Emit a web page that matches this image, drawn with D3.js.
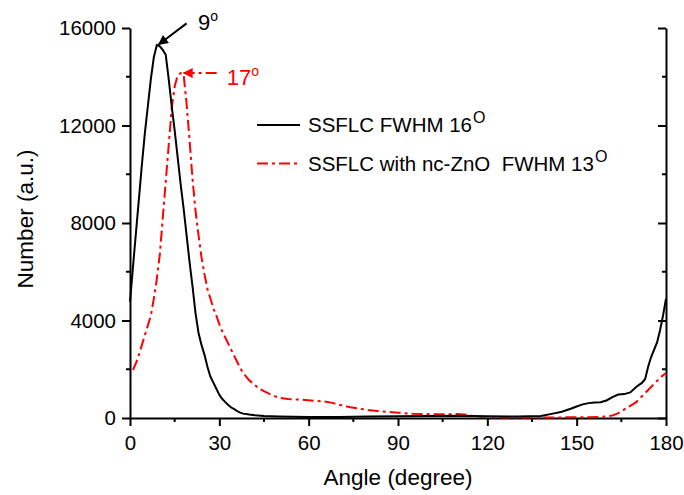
<!DOCTYPE html>
<html>
<head>
<meta charset="utf-8">
<script src="https://cdn.jsdelivr.net/npm/d3@7"></script>
<style>
  body { margin: 0; background: #fff; }
  text { font-family: "Liberation Sans", Arial, sans-serif; white-space: pre; }
</style>
</head>
<body>
<div id="chart"></div>
<script>
// angle (degree) and number (a.u.)
var ssflcAngle = [0, 1, 2, 3, 4, 5, 6, 7, 8, 9, 10, 11, 12, 13, 14, 15, 16, 17, 18, 19, 20, 21, 22, 23, 24, 25, 26, 27, 28, 29, 30, 31, 32, 33, 34, 35, 36, 37, 38, 40, 42, 45, 50, 60, 70, 80, 90, 100, 110, 120, 130, 138, 142, 145, 148, 150, 152, 154, 156, 158, 160, 162, 164, 166, 168, 170, 172, 173, 174, 175, 176, 177, 178, 179, 180];
var ssflcValue = [4770, 6200, 7600, 9000, 10400, 11700, 12800, 13900, 14800, 15300, 15250, 15100, 14900, 13900, 12800, 11800, 10700, 9600, 8600, 7500, 6400, 5400, 4300, 3500, 3000, 2600, 2100, 1700, 1450, 1200, 950, 780, 650, 530, 430, 360, 280, 220, 180, 140, 110, 80, 60, 40, 40, 60, 70, 80, 90, 70, 60, 80, 180, 260, 380, 470, 560, 610, 640, 650, 720, 860, 960, 980, 1050, 1270, 1450, 1600, 2100, 2500, 2800, 3100, 3600, 4200, 4900];

var znoAngle = [1, 2, 3, 4, 5, 6, 7, 8, 9, 10, 11, 12, 13, 14, 15, 16, 17, 18, 19, 20, 21, 22, 23, 24, 25, 26, 27, 28, 29, 30, 31, 32, 33, 34, 35, 36, 37, 38, 39, 40, 41, 42, 43, 45, 47, 50, 53, 56, 59, 62, 65, 68, 71, 74, 77, 80, 83, 86, 90, 95, 100, 105, 110, 113, 116, 120, 130, 140, 150, 158, 162, 164, 166, 168, 170, 172, 174, 176, 178, 180];
var znoValue = [1970, 2250, 2600, 3000, 3400, 3800, 4200, 4900, 5700, 6700, 8200, 9700, 11200, 12700, 13600, 14050, 14150, 14100, 12900, 11400, 9800, 8500, 7500, 6600, 5900, 5300, 4900, 4500, 4200, 3850, 3550, 3300, 3050, 2800, 2550, 2300, 2050, 1850, 1700, 1550, 1450, 1350, 1230, 1100, 980, 830, 780, 760, 740, 700, 680, 620, 520, 440, 380, 330, 290, 260, 220, 170, 160, 150, 160, 130, 60, 30, 20, 20, 30, 40, 100, 200, 350, 500, 650, 900, 1150, 1400, 1650, 1850];

var xTicks = [0, 30, 60, 90, 120, 150, 180];
var yTicks = [0, 4000, 8000, 12000, 16000];
var legendNames = ["SSFLC FWHM 16", "SSFLC with nc-ZnO  FWHM 13"];

var w = 684, h = 495;
var margin = {top: 28, right: 18, bottom: 77, left: 130};

var svg = d3.select('#chart').
  append('svg').
  attr('width', w).
  attr('height', h);

var x = d3.scaleLinear().domain([0, 180]).range([margin.left, w - margin.right]);
var y = d3.scaleLinear().domain([0, 16000]).range([h - margin.bottom, margin.top]);

var defs = svg.append('defs');
function arrowHead(id, color) {
  defs.append('marker').
    attr('id', id).
    attr('viewBox', '0 0 10 10').
    attr('refX', 10).
    attr('refY', 5).
    attr('markerWidth', 12).
    attr('markerHeight', 10).
    attr('markerUnits', 'userSpaceOnUse').
    attr('orient', 'auto').
    append('path').
    attr('d', 'M0,0L10,5L0,10Z').
    attr('fill', color);
}
arrowHead('arrowK', '#000');
arrowHead('arrowR', '#ff0000');

// axes
var xMinor = d3.range(15, 180, 30);
var yMinor = d3.range(2000, 16000, 4000);

var bottom = svg.append('g').attr('transform', 'translate(0,' + y(0) + ')');
bottom.call(d3.axisBottom(x).tickValues(xTicks).tickSize(8).tickPadding(9).tickSizeOuter(0));
bottom.selectAll('.minor').data(xMinor).enter().append('line').
  attr('x1', d => x(d)).attr('x2', d => x(d)).attr('y1', 0).attr('y2', 4).
  attr('stroke', '#000').attr('stroke-width', 2);

var left = svg.append('g').attr('transform', 'translate(' + x(0) + ',0)');
left.call(d3.axisLeft(y).tickValues(yTicks).tickFormat(d3.format('d')).tickSize(8).tickPadding(6).tickSizeOuter(0));
left.selectAll('.minor').data(yMinor).enter().append('line').
  attr('x1', 0).attr('x2', -4).attr('y1', d => y(d)).attr('y2', d => y(d)).
  attr('stroke', '#000').attr('stroke-width', 2);

var right = svg.append('g').attr('transform', 'translate(' + x(180) + ',0)');
right.call(d3.axisLeft(y).tickValues(yTicks).tickFormat('').tickSize(8).tickSizeOuter(0));
right.selectAll('.minor').data(yMinor).enter().append('line').
  attr('x1', 0).attr('x2', -4).attr('y1', d => y(d)).attr('y2', d => y(d)).
  attr('stroke', '#000').attr('stroke-width', 2);

svg.selectAll('.domain').attr('stroke-width', 2);
svg.selectAll('.tick line').attr('stroke-width', 2);
svg.selectAll('.tick text').style('font-size', '20.5px').attr('fill', '#000');

svg.append('text').
  attr('x', (x(0) + x(180)) / 2).
  attr('y', 485).
  attr('text-anchor', 'middle').
  style('font-size', '22.5px').
  text('Angle (degree)');

svg.append('text').
  attr('transform', 'translate(33,' + (y(8000) - 4) + ') rotate(-90)').
  attr('text-anchor', 'middle').
  style('font-size', '22.5px').
  text('Number (a.u.)');

// lines
var ssflc = ssflcAngle.map((a, i) => [a, ssflcValue[i]]);
var zno = znoAngle.map((a, i) => [a, znoValue[i]]);
var line = d3.line().x(d => x(d[0])).y(d => y(d[1]));

svg.append('path').
  datum(zno).
  attr('d', line).
  attr('fill', 'none').
  attr('stroke', '#ff0000').
  attr('stroke-width', 2).
  attr('stroke-dasharray', '11,4,3,4');

svg.append('path').
  datum(ssflc).
  attr('d', line).
  attr('fill', 'none').
  attr('stroke', '#000').
  attr('stroke-width', 2);

// annotations
svg.append('line').
  attr('x1', x(19)).attr('y1', y(16190)).
  attr('x2', x(9.4)).attr('y2', y(15300)).
  attr('stroke', '#000').attr('stroke-width', 2).
  attr('marker-end', 'url(#arrowK)');

var t9 = svg.append('text').attr('x', x(22.8)).attr('y', y(15920)).style('font-size', '22px').attr('fill', '#000');
t9.append('tspan').text('9');
t9.append('tspan').attr('dy', -9).style('font-size', '14px').text('o');

svg.append('line').
  attr('x1', x(29.1)).attr('y1', y(14150)).
  attr('x2', x(17.7)).attr('y2', y(14150)).
  attr('stroke', '#ff0000').attr('stroke-width', 2).
  attr('stroke-dasharray', '11,4,3,4').
  attr('marker-end', 'url(#arrowR)');

var t17 = svg.append('text').attr('x', x(32.5)).attr('y', y(13660)).style('font-size', '22px').attr('fill', '#ff0000');
t17.append('tspan').text('17');
t17.append('tspan').attr('dy', -9).style('font-size', '14px').text('o');

// legend
var legend = svg.selectAll('.legend').
  data(legendNames).
  enter().
  append('g').
  attr('class', 'legend').
  attr('transform', (d, i) => 'translate(257,' + (125 + i * 38.5) + ')');

legend.append('line').
  attr('x1', 0).attr('x2', 43).attr('y1', 0).attr('y2', 0).
  attr('stroke', (d, i) => i === 0 ? '#000' : '#ff0000').
  attr('stroke-width', 2).
  attr('stroke-dasharray', (d, i) => i === 0 ? null : '11,4,3,4');

var lt = legend.append('text').
  attr('x', 51).
  attr('y', 7).
  style('font-size', '20.5px').
  attr('fill', '#000');
lt.append('tspan').text(d => d);
lt.append('tspan').attr('dx', 1).attr('dy', -9).style('font-size', '16px').text('O');
</script>
</body>
</html>
